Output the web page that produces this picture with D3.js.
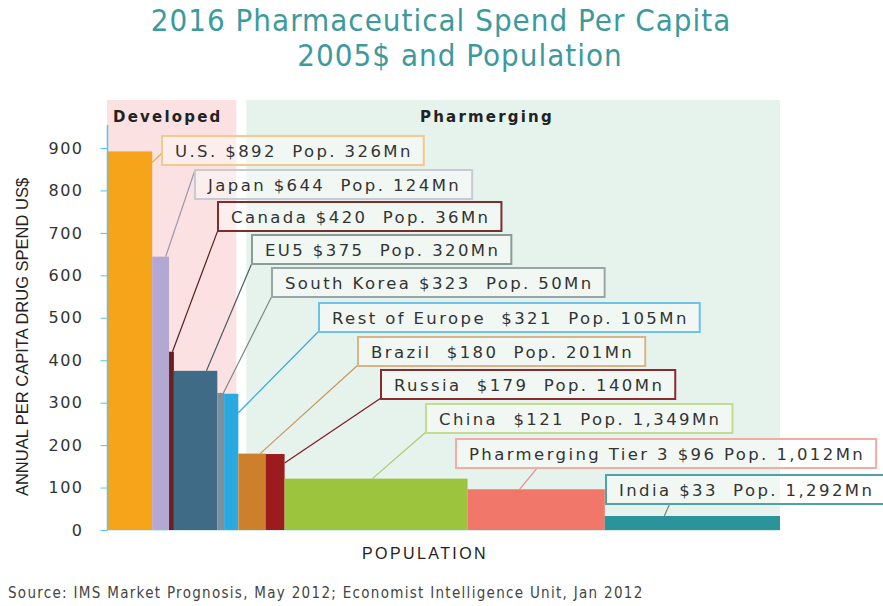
<!DOCTYPE html>
<html>
<head>
<meta charset="utf-8">
<script src="https://cdn.jsdelivr.net/npm/d3@7"></script>
<style>
  body { margin: 0; background: #fff; }
  text { fill: #333; }
</style>
</head>
<body>
<script>
// data
var countries = ["U.S.", "Japan", "Canada", "EU5", "South Korea", "Rest of Europe",
    "Brazil", "Russia", "China", "Pharmerging Tier 3", "India"];
var spend = [892, 644, 420, 375, 323, 321, 180, 179, 121, 96, 33];
var population = [326, 124, 36, 320, 50, 105, 201, 140, 1349, 1012, 1292];
var labels = [
    "U.S. $892  Pop. 326Mn",
    "Japan $644  Pop. 124Mn",
    "Canada $420  Pop. 36Mn",
    "EU5 $375  Pop. 320Mn",
    "South Korea $323  Pop. 50Mn",
    "Rest of Europe  $321  Pop. 105Mn",
    "Brazil  $180  Pop. 201Mn",
    "Russia  $179  Pop. 140Mn",
    "China  $121  Pop. 1,349Mn",
    "Pharmerging Tier 3 $96 Pop. 1,012Mn",
    "India $33  Pop. 1,292Mn"
];
var groups = ["Developed", "Pharmerging"];
var groupLastBar = [5, 10];
var yTicks = [0, 100, 200, 300, 400, 500, 600, 700, 800, 900];

// styling / layout
var barColors = ["#f6a51b", "#b2a8d2", "#6a2020", "#3f6b86", "#7d8f98", "#2aa9e1",
    "#cd7f2b", "#9b1b1e", "#9cc43c", "#f0776a", "#2a939b"];
var boxColors = ["#f3c98c", "#c9c9d6", "#7a2e2e", "#8a9c98", "#9aa6a6", "#6ec1ea",
    "#d8b48a", "#8b2a2d", "#c3dc90", "#f3aca4", "#4da3a9"];
var lineColors = ["#e8a84a", "#9a98b0", "#5a2020", "#4a5e66", "#7a8888", "#3aa8dc",
    "#c8955e", "#7a1a20", "#a8cc6a", "#e8958c", "#6a8a90"];
var labelLeft = [162, 195, 218, 252, 272, 319, 358, 381, 426, 456, 606];
var labelTop = [136, 170, 202, 235, 268, 303, 337, 370, 404, 439, 475];
var leaderFrom = [[0, 17], [0, 0], [0, 28], [0, 28], [0, 28], [0, 28], [0, 28], [0, 28], [0, 28], [82, 28], [64, 28]];
var leaderTo = [[1, 11], [0.8, 0], [0.7, 0], [0.75, 0], [0.9, 0], [1, 19], [0.8, 0], [1, 9], [0.48, 0], [0.38, 0], [0.34, 0]];

var W = 883, H = 606;
var svg = d3.select("body").append("svg")
    .attr("width", W)
    .attr("height", H);

var x = d3.scaleLinear()
    .domain([0, d3.sum(population)])
    .range([108, 780]);

var y = d3.scaleLinear()
    .domain([0, 900])
    .range([530, 148]);

var ends = Array.from(d3.cumsum(population));
var bars = countries.map(function (c, i) {
    return { name: c, spend: spend[i], x0: ends[i] - population[i], x1: ends[i], i: i };
});

// title
function titleLine(txt, cx, cy) {
    svg.append("text")
        .attr("x", cx).attr("y", cy)
        .attr("text-anchor", "middle")
        .style("font-family", "'DejaVu Sans Condensed', 'DejaVu Sans'")
        .style("font-stretch", "condensed")
        .style("font-size", "31px")
        .style("letter-spacing", "1px")
        .style("fill", "#3c9a9d")
        .text(txt);
}
titleLine("2016 Pharmaceutical Spend Per Capita", 441, 31);
titleLine("2005$ and Population", 460, 66);

// group backgrounds
var groupBg = ["#fbe1e1", "#e6f3ec"];
groups.forEach(function (g, k) {
    var first = k === 0 ? 0 : groupLastBar[k - 1] + 1;
    var gx0 = k === 0 ? x(bars[first].x0) - 1 : x(bars[first].x0) + 8;
    var gx1 = k === 0 ? x(bars[groupLastBar[k]].x1) - 2 : x(bars[groupLastBar[k]].x1);
    svg.append("rect")
        .attr("x", gx0).attr("y", 100)
        .attr("width", gx1 - gx0).attr("height", 530 - 100)
        .attr("fill", groupBg[k]);
});

svg.append("text")
    .attr("x", 113).attr("y", 122)
    .style("font-family", "'DejaVu Sans'")
    .style("font-weight", "bold")
    .style("font-size", "15px")
    .style("letter-spacing", "2.2px")
    .style("fill", "#222")
    .text(groups[0]);

svg.append("text")
    .attr("x", 420).attr("y", 122)
    .style("font-family", "'DejaVu Sans'")
    .style("font-weight", "bold")
    .style("font-size", "15px")
    .style("letter-spacing", "2.2px")
    .style("fill", "#222")
    .text(groups[1]);

// bars
svg.append("g").selectAll("rect")
    .data(bars)
    .enter().append("rect")
    .attr("x", function (d) { return x(d.x0); })
    .attr("y", function (d) { return y(d.spend); })
    .attr("width", function (d) { return x(d.x1) - x(d.x0); })
    .attr("height", function (d) { return y(0) - y(d.spend); })
    .attr("fill", function (d) { return barColors[d.i]; });

// baseline
svg.append("line")
    .attr("x1", 107).attr("x2", 780)
    .attr("y1", 530.5).attr("y2", 530.5)
    .attr("stroke", "#d6ecec");

// y axis
var yAxis = d3.axisLeft(y)
    .tickValues(yTicks)
    .tickSize(7)
    .tickPadding(17);

var gy = svg.append("g")
    .attr("transform", "translate(107.5,0)")
    .call(yAxis);

gy.select(".domain")
    .attr("d", "M0,125V530")
    .attr("stroke", "#5cc3e6")
    .attr("stroke-width", 1.5);
gy.selectAll(".tick line").attr("stroke", "#5cc3e6");
gy.selectAll(".tick text")
    .style("font-family", "'DejaVu Sans'")
    .style("font-size", "16px")
    .style("letter-spacing", "1.5px")
    .style("fill", "#333");

svg.append("text")
    .attr("transform", "translate(28,337) rotate(-90)")
    .attr("text-anchor", "middle")
    .style("font-family", "'Liberation Sans', Arial")
    .style("font-size", "16.5px")
    .style("fill", "#222")
    .text("ANNUAL PER CAPITA DRUG SPEND US$");

svg.append("text")
    .attr("x", 425).attr("y", 559)
    .attr("text-anchor", "middle")
    .style("font-family", "'Liberation Sans', Arial")
    .style("font-size", "16px")
    .style("letter-spacing", "2.4px")
    .style("fill", "#222")
    .text("POPULATION");

// leader lines
var boxH = 29;
svg.append("g").selectAll("line")
    .data(bars)
    .enter().append("line")
    .attr("x1", function (d) { return labelLeft[d.i] + leaderFrom[d.i][0]; })
    .attr("y1", function (d) { return labelTop[d.i] + leaderFrom[d.i][1]; })
    .attr("x2", function (d) { return x(d.x0) + leaderTo[d.i][0] * (x(d.x1) - x(d.x0)); })
    .attr("y2", function (d) { return y(d.spend) + leaderTo[d.i][1]; })
    .attr("stroke", function (d) { return lineColors[d.i]; })
    .attr("stroke-width", 1.2);

// label boxes
var lab = svg.append("g").selectAll("g")
    .data(bars)
    .enter().append("g")
    .attr("transform", function (d) {
        return "translate(" + labelLeft[d.i] + "," + labelTop[d.i] + ")";
    });

var rects = lab.append("rect")
    .attr("x", 0).attr("y", 0)
    .attr("height", boxH)
    .attr("fill", "rgba(255,255,255,0.45)")
    .attr("stroke", function (d) { return boxColors[d.i]; })
    .attr("stroke-width", 2);

var texts = lab.append("text")
    .attr("x", 13).attr("y", 21)
    .style("font-family", "'DejaVu Sans'")
    .style("font-size", "16.5px")
    .style("letter-spacing", "2.4px")
    .style("white-space", "pre")
    .style("fill", "#333")
    .text(function (d) { return labels[d.i]; });

texts.each(function (d) {
    var w = this.getComputedTextLength();
    d.boxW = w + 24;
});
rects.attr("width", function (d) { return d.boxW; });

// source
svg.append("text")
    .attr("x", 8).attr("y", 598)
    .style("font-family", "'DejaVu Sans Condensed', 'DejaVu Sans'")
    .style("font-stretch", "condensed")
    .style("font-size", "15px")
    .style("letter-spacing", "1.3px")
    .style("fill", "#444")
    .text("Source: IMS Market Prognosis, May 2012; Economist Intelligence Unit, Jan 2012");
</script>
</body>
</html>
